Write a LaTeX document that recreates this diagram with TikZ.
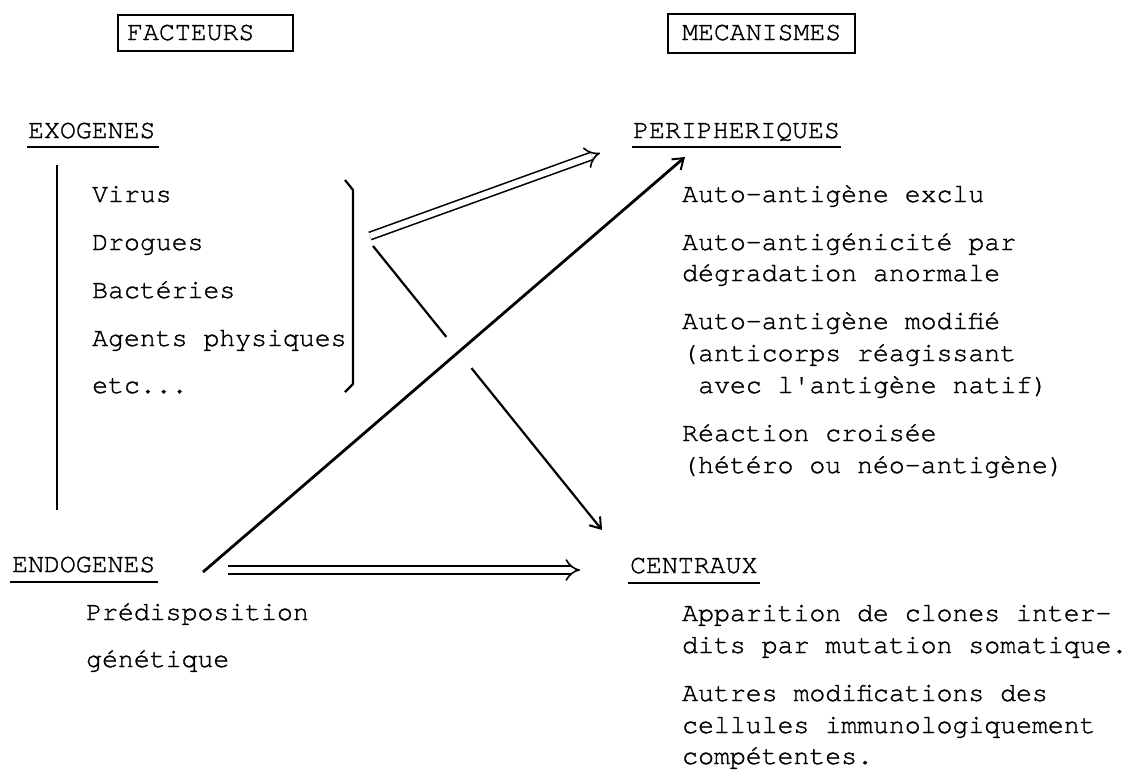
\documentclass[tikz,border=0pt]{standalone}
\usepackage{fontspec}
\setmonofont{texgyrecursor-regular.otf}[FakeBold=1.2]
\usetikzlibrary{arrows.meta,calc}
\begin{document}
\begin{tikzpicture}[x=1pt,y=-1pt,
  txt/.style={anchor=base west, inner sep=0pt, font=\ttfamily\fontsize{26.5}{30}\selectfont},
  hbox/.style={draw, line width=2pt, inner sep=0pt},
  uline/.style={line width=2pt},
  wire/.style={line width=2.2pt},
  longwire/.style={line width=2.8pt},
  dbl/.style={double, double distance=6pt, line width=1.6pt},
  bar/.style={line width=2.2pt, line join=round},
  barb/.style={-{Straight Barb[length=10pt,width=14pt,line width=2pt]}}]
\useasboundingbox (0,0) rectangle (1130,771);
% header boxes
\node[hbox, minimum width=175pt, minimum height=36pt] (factbox) at (205.5,33) {};
\node[txt] (fact) at (127,40) {FACTEURS};
\node[hbox, minimum width=187pt, minimum height=39pt] (mecabox) at (761.5,33.5) {};
\node[txt] (meca) at (682,40) {MECANISMES};
% left column
\node[txt] (exo) at (28,138) {EXOGENES};
\node[txt] (virus) at (92,202) {Virus};
\node[txt] (drog) at (92,250) {Drogues};
\node[txt] (bact) at (92,298) {Bactéries};
\node[txt] (agen) at (92,346) {Agents physiques};
\node[txt] (etc) at (92,393) {etc...};
\node[txt] (endo) at (12,572) {ENDOGENES};
\node[txt] (pred) at (86,620) {Prédisposition};
\node[txt] (gene) at (86,667) {génétique};
% right column
\node[txt] (peri) at (633,138) {PERIPHERIQUES};
\node[txt] (p1) at (682,202) {Auto-antigène exclu};
\node[txt] (p2a) at (682,250) {Auto-antigénicité par};
\node[txt] (p2b) at (682,281) {dégradation anormale};
\node[txt] (p3a) at (682,329) {Auto-antigène modifié};
\node[txt] (p3b) at (682,361) {(anticorps réagissant};
\node[txt] (p3c) at (698,393) {avec l'antigène natif)};
\node[txt] (p4a) at (682,441) {Réaction croisée};
\node[txt] (p4b) at (682,473) {(hétéro ou néo-antigène)};
\node[txt] (cent) at (630,573) {CENTRAUX};
\node[txt] (c1a) at (682,621) {Apparition de clones inter-};
\node[txt] (c1b) at (682,653) {dits par mutation somatique.};
\node[txt] (c2a) at (682,701) {Autres modifications des};
\node[txt] (c2b) at (682,733) {cellules immunologiquement};
\node[txt] (c2c) at (682,764) {compétentes.};
% underlines
\draw[uline] ([xshift=-1pt,yshift=-9pt]exo.base west) -- ([xshift=3pt,yshift=-9pt]exo.base east);
\draw[uline] ([xshift=-1pt,yshift=-9pt]peri.base west) -- ([xshift=1pt,yshift=-9pt]peri.base east);
\draw[uline] ([xshift=-2pt,yshift=-10pt]endo.base west) -- ([xshift=2pt,yshift=-10pt]endo.base east);
\draw[uline] ([xshift=-2pt,yshift=-10pt]cent.base west) -- ([xshift=2pt,yshift=-10pt]cent.base east);
% left vertical bar and bracket
\coordinate (vl1) at (57,165);
\coordinate (vl2) at (57,510);
\draw[bar] (vl1) -- (vl2);
\coordinate (b0) at (345,180);
\coordinate (b1) at (353,190);
\coordinate (b2) at (353,384);
\coordinate (b3) at (345,392);
\draw[bar] (b0) -- (b1) -- (b2) -- (b3);
% arrows
\coordinate (d1s) at (370,236);
\coordinate (d1e) at (600,153);
\draw[dbl, -{Implies}] (d1s) -- (d1e);
\coordinate (s1) at (373,246);
\coordinate (s2) at (602,530);
\draw[wire] (s1) -- ($(s1)!0.32!(s2)$);
\draw[wire, barb] ($(s1)!0.43!(s2)$) -- (s2);
\coordinate (l1) at (203,572);
\coordinate (l2) at (685,157);
\draw[longwire, barb] (l1) -- (l2);
\coordinate (h1) at (228,570);
\coordinate (h2) at (580,570);
\draw[dbl, -{Implies}] (h1) -- (h2);
\end{tikzpicture}
\end{document}
